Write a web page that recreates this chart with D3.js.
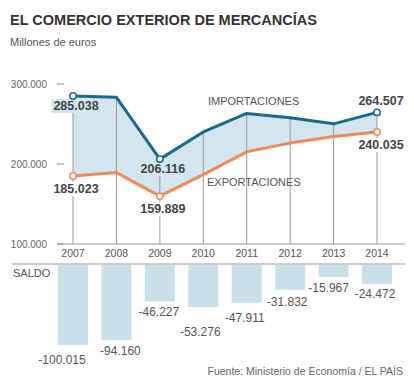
<!DOCTYPE html>
<html><head><meta charset="utf-8">
<script src="https://cdn.jsdelivr.net/npm/d3@7"></script>
<style>body{margin:0;background:#fff}svg{display:block;font-family:"Liberation Sans",Arial,sans-serif}</style>
</head><body><svg id="c" width="414" height="381"></svg>
<script>
const years = ["2007","2008","2009","2010","2011","2012","2013","2014"];
const imports = [285038,283388,206116,240056,263141,257947,250207,264507];
const exports_ = [185023,189228,159889,186780,215230,226115,234240,240035];
const saldo = [-100015,-94160,-46227,-53276,-47911,-31832,-15967,-24472];
const yTicks = [100000,200000,300000];
const labelled = ["2007","2009","2014"];
// hand placement of the balance labels (label layout, as in the original)
const saldoLabelNudgeX = [-11,4,-1,-3,-2,-3,-5,-2];
const saldoLabelNudgeY = [19,15,15,29,19,16,15,14];

const fmt = v => d3.format(",")(v).replace(/,/g,".").replace("\u2212","-");
const svg = d3.select("#c");
const x = d3.scalePoint().domain(years).range([73,377]);
const y = d3.scaleLinear().domain([100000,300000]).range([244,84]);
const yb = d3.scaleLinear().domain([0,-100000]).range([264,345]);

const cArea="#d3e6f0", cImp="#1a6a8c", cExp="#ef8a5a", cBar="#c9e0eb";

const t = svg.append("text").attr("x",10).attr("y",25).attr("font-size",14).attr("font-weight","bold")
  .attr("fill","#333").text("EL COMERCIO EXTERIOR DE MERCANCÍAS");
t.attr("textLength",307).attr("lengthAdjust","spacingAndGlyphs");
svg.append("text").attr("x",10).attr("y",46).attr("font-size",11).attr("fill","#555").text("Millones de euros");

const rows = years.map((yr,i)=>({yr,i,imp:imports[i],exp:exports_[i],s:saldo[i]}));
svg.append("path").datum(rows).attr("fill",cArea)
  .attr("d",d3.area().x(d=>x(d.yr)).y0(d=>y(d.exp)).y1(d=>y(d.imp)));

svg.selectAll(".vl").data(rows).join("line").attr("x1",d=>x(d.yr)).attr("x2",d=>x(d.yr))
  .attr("y1",y(100000)).attr("y2",d=>y(d.imp)).attr("stroke","#999").attr("stroke-width",1);

const yAx = svg.append("g");
yTicks.forEach(v=>{
  yAx.append("line").attr("x1",57).attr("x2",64).attr("y1",y(v)).attr("y2",y(v)).attr("stroke","#888");
  yAx.append("text").attr("x",47).attr("y",y(v)+4).attr("text-anchor","end").attr("font-size",10).attr("fill","#666").text(fmt(v));
});
svg.append("line").attr("x1",57).attr("x2",405).attr("y1",y(100000)).attr("y2",y(100000)).attr("stroke","#999");
svg.selectAll(".yr").data(years).join("text").attr("x",d=>x(d)).attr("y",257).attr("text-anchor","middle")
  .attr("font-size",10.5).attr("fill","#555").text(d=>d);

svg.append("path").datum(rows).attr("fill","none").attr("stroke",cImp).attr("stroke-width",3).attr("stroke-linejoin","round")
  .attr("d",d3.line().x(d=>x(d.yr)).y(d=>y(d.imp)));
svg.append("path").datum(rows).attr("fill","none").attr("stroke",cExp).attr("stroke-width",3).attr("stroke-linejoin","round")
  .attr("d",d3.line().x(d=>x(d.yr)).y(d=>y(d.exp)));

const lab = rows.filter(d=>labelled.includes(d.yr));
function valLabel(txt, cx, base, bg){
  const g = svg.append("g");
  const tt = g.append("text").attr("x",cx).attr("y",base).attr("text-anchor","middle").attr("font-size",12.5)
    .attr("font-weight","bold").attr("fill","#444").text(txt);
  if(bg){ const b = tt.node().getBBox();
    g.insert("rect","text").attr("x",b.x-2).attr("y",b.y).attr("width",b.width+4).attr("height",b.height).attr("fill",bg); }
}
lab.forEach(d=>{
  const last = d.yr==="2014";
  valLabel(fmt(d.imp), x(d.yr)+(last?4:3), last? y(d.imp)-7 : y(d.imp)+14, last?"#fff":cArea);
  valLabel(fmt(d.exp), x(d.yr)+(last?4:3), y(d.exp)+17, "#fff");
});
lab.forEach(d=>{
  svg.append("circle").attr("cx",x(d.yr)).attr("cy",y(d.imp)).attr("r",3.2).attr("fill","#fff").attr("stroke",cImp).attr("stroke-width",1.5);
  svg.append("circle").attr("cx",x(d.yr)).attr("cy",y(d.exp)).attr("r",3.2).attr("fill","#fff").attr("stroke",cExp).attr("stroke-width",1.5);
});
svg.append("text").attr("x",208).attr("y",105).attr("font-size",11).attr("fill","#555").text("IMPORTACIONES");
svg.append("text").attr("x",207).attr("y",186).attr("font-size",11).attr("fill","#555").text("EXPORTACIONES");

svg.append("line").attr("x1",12).attr("x2",405).attr("y1",264).attr("y2",264).attr("stroke","#999");
svg.append("text").attr("x",13).attr("y",277).attr("font-size",11).attr("fill","#555").text("SALDO");
svg.selectAll(".bar").data(rows).join("rect").attr("x",d=>x(d.yr)-15).attr("width",30)
  .attr("y",yb(0)+1).attr("height",d=>yb(d.s)-yb(0)-1).attr("fill",cBar);
svg.selectAll(".bl").data(rows).join("text").attr("x",d=>x(d.yr)+saldoLabelNudgeX[d.i]).attr("y",d=>yb(d.s)+saldoLabelNudgeY[d.i])
  .attr("text-anchor","middle").attr("font-size",12).attr("fill","#555").text(d=>fmt(d.s));

svg.append("text").attr("x",403).attr("y",375).attr("text-anchor","end").attr("font-size",10.5).attr("fill","#666")
  .text("Fuente: Ministerio de Economía / EL PAÍS");
</script></body></html>
